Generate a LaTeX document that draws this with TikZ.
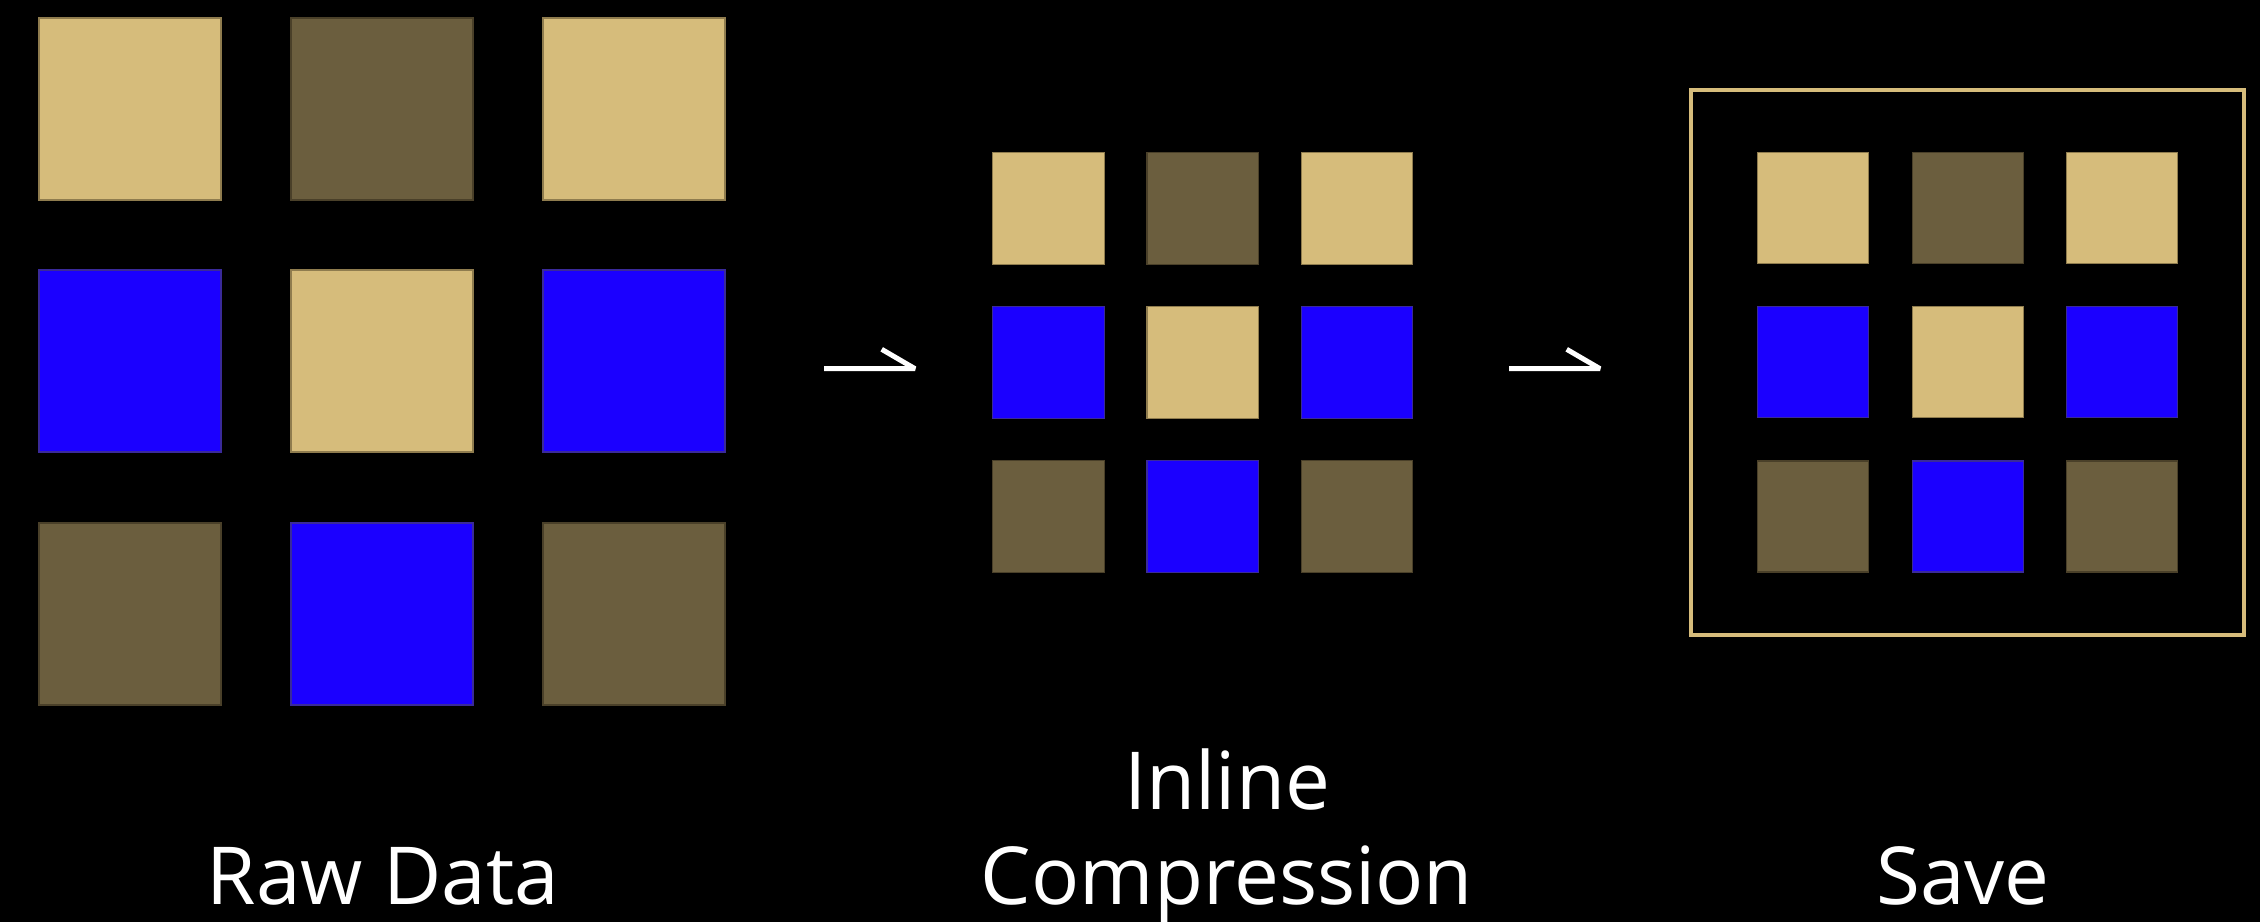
\documentclass[tikz,border=0pt]{standalone}
\usepackage{fontspec}
\setmainfont{Open Sans}
\definecolor{tanc}{HTML}{D6BC7B}
\definecolor{tanedge}{HTML}{8F7C4E}
\definecolor{darkc}{HTML}{6B5E3E}
\definecolor{darkedge}{HTML}{4A4029}
\definecolor{bluec}{HTML}{1B00FF}
\definecolor{blueedge}{HTML}{3A2A9A}
\tikzset{
  sq/.style={minimum size=#1, inner sep=0pt, outer sep=0pt, line width=1.2pt},
  tsq/.style={fill=tanc, draw=tanedge},
  dsq/.style={fill=darkc, draw=darkedge},
  bsq/.style={fill=bluec, draw=blueedge},
  flow/.style={draw=white, line width=5pt, line join=bevel},
  lbl/.style={text=white, font=\fontsize{80}{95}\selectfont, inner sep=0pt, align=center},
  frame/.style={draw=tanc, line width=4pt, inner sep=0pt}
}
\begin{document}
\begin{tikzpicture}[x=1pt,y=-1pt]
\fill[black] (0,0) rectangle (2260,922);
\useasboundingbox (0,0) rectangle (2260,922);
% Raw data grid
\node[sq=182pt, tsq] (r11) at (130,109) {};
\node[sq=182pt, dsq] (r12) at (382,109) {};
\node[sq=182pt, tsq] (r13) at (634,109) {};
\node[sq=182pt, bsq] (r21) at (130,361) {};
\node[sq=182pt, tsq] (r22) at (382,361) {};
\node[sq=182pt, bsq] (r23) at (634,361) {};
\node[sq=182pt, dsq] (r31) at (130,614) {};
\node[sq=182pt, bsq] (r32) at (382,614) {};
\node[sq=182pt, dsq] (r33) at (634,614) {};
% Compressed grid
\node[sq=111.5pt, tsq] (c11) at (1048.5,208.4) {};
\node[sq=111.5pt, dsq] (c12) at (1202.8,208.4) {};
\node[sq=111.5pt, tsq] (c13) at (1357,208.4) {};
\node[sq=111.5pt, bsq] (c21) at (1048.5,362.4) {};
\node[sq=111.5pt, tsq] (c22) at (1202.8,362.4) {};
\node[sq=111.5pt, bsq] (c23) at (1357,362.4) {};
\node[sq=111.5pt, dsq] (c31) at (1048.5,516.5) {};
\node[sq=111.5pt, bsq] (c32) at (1202.8,516.5) {};
\node[sq=111.5pt, dsq] (c33) at (1357,516.5) {};
% Saved grid with frame
\node[frame, minimum width=553pt, minimum height=545pt] (box) at (1967.5,362.6) {};
\node[sq=111pt, tsq] (s11) at (1813.2,208.3) {};
\node[sq=111pt, dsq] (s12) at (1967.6,208.3) {};
\node[sq=111pt, tsq] (s13) at (2122,208.3) {};
\node[sq=111pt, bsq] (s21) at (1813.2,362.3) {};
\node[sq=111pt, tsq] (s22) at (1967.6,362.3) {};
\node[sq=111pt, bsq] (s23) at (2122,362.3) {};
\node[sq=111pt, dsq] (s31) at (1813.2,516.5) {};
\node[sq=111pt, bsq] (s32) at (1967.6,516.5) {};
\node[sq=111pt, dsq] (s33) at (2122,516.5) {};
% Arrows
\coordinate (a1s) at (824,368.7);
\coordinate (a1e) at (915,368.7);
\coordinate (a1h) at (881.7,349.3);
\coordinate (a2s) at (1509,368.7);
\coordinate (a2e) at (1600,368.7);
\coordinate (a2h) at (1566.7,349.3);
\draw[flow] (a1s) -- (a1e) -- (a1h);
\draw[flow] (a2s) -- (a2e) -- (a2h);
% Labels
\node[lbl, anchor=base] (l1) at (383,904) {Raw Data};
\node[lbl, anchor=base] (l2) at (1227,904) {Inline\\Compression};
\node[lbl, anchor=base] (l3) at (1963,904) {Save};
\end{tikzpicture}
\end{document}
